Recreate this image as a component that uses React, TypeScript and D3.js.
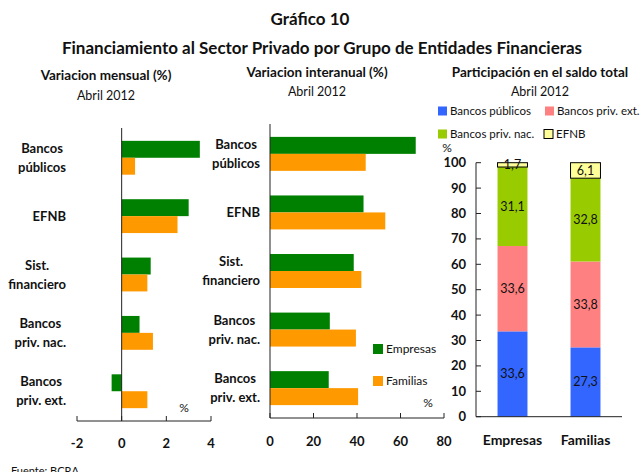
import React from 'react';
import * as d3 from 'd3';

// categorías de entidades (paneles 1 y 2)
const categories = ['Bancos públicos', 'EFNB', 'Sist. financiero', 'Bancos priv. nac.', 'Bancos priv. ext.'];
const categoryLines = [['Bancos', 'públicos'], ['EFNB'], ['Sist.', 'financiero'], ['Bancos', 'priv. nac.'], ['Bancos', 'priv. ext.']];
const series = ['Empresas', 'Familias'];

// variación mensual (%)
const mensualEmpresas = [3.5, 3.0, 1.3, 0.8, -0.45];
const mensualFamilias = [0.6, 2.5, 1.15, 1.4, 1.15];
const mensualTicks = [-2, 0, 2, 4];

// variación interanual (%)
const interanualEmpresas = [67, 43, 38.5, 27.5, 27];
const interanualFamilias = [44, 53, 42, 39.5, 40.5];
const interanualTicks = [0, 20, 40, 60, 80];

// participación en el saldo total (%)
const grupos = ['Bancos públicos', 'Bancos priv. ext.', 'Bancos priv. nac.', 'EFNB'];
const partPublicos = [33.6, 27.3];
const partPrivExt = [33.6, 33.8];
const partPrivNac = [31.1, 32.8];
const partEfnb = [1.7, 6.1];
const partTicks = [0, 10, 20, 30, 40, 50, 60, 70, 80, 90, 100];

const FONT = 'Lato, "Open Sans", sans-serif';
const serieColor = ['#008000', '#FF9900'];
const grupoColor = ['#3366FF', '#FF8080', '#99CC00', '#FFFF99'];

let ctx: CanvasRenderingContext2D | null = null;
const measure = (t: string, font: string) => {
  if (!ctx) ctx = document.createElement('canvas').getContext('2d');
  if (!ctx) return t.length * 6;
  ctx.font = font;
  return ctx.measureText(t).width;
};

// etiqueta multilínea: bloque alineado a la derecha, líneas centradas
const CatLabel = ({ lines, right, cy }: { lines: string[]; right: number; cy: number }) => {
  const font = `bold 13px ${FONT}`;
  const w = Math.max(...lines.map(l => measure(l, font)));
  const cx = right - w / 2;
  const lh = 19;
  const y0 = cy - ((lines.length - 1) * lh) / 2;
  return (
    <g>
      {lines.map((l, i) => (
        <text key={i} x={cx} y={y0 + i * lh} dy="0.35em" textAnchor="middle"
          fontFamily={FONT} fontWeight="bold" fontSize={13} fill="#111">{l}</text>
      ))}
    </g>
  );
};

const HBarPanel = ({ empresas, familias, ticks, domain, xRange, yRange, labelRight, tickY }: {
  empresas: number[]; familias: number[]; ticks: number[]; domain: [number, number];
  xRange: [number, number]; yRange: [number, number]; labelRight: number; tickY: number;
}) => {
  const x = d3.scaleLinear().domain(domain).range(xRange);
  const y = d3.scaleBand<string>().domain(categories).range(yRange).paddingInner(0.42).paddingOuter(0.22);
  const ys = d3.scaleBand<string>().domain(series).range([0, y.bandwidth()]);
  const vals = [empresas, familias];
  const base = yRange[1];
  return (
    <g>
      {categories.map((c, i) => (
        <g key={c} transform={`translate(0,${y(c)})`}>
          {series.map((s, k) => {
            const v = vals[k][i];
            return (
              <rect key={s} x={Math.min(x(0), x(v))} y={ys(s)} width={Math.abs(x(v) - x(0))}
                height={ys.bandwidth()} fill={serieColor[k]} />
            );
          })}
        </g>
      ))}
      {categories.map((c, i) => (
        <CatLabel key={c} lines={categoryLines[i]} right={labelRight} cy={y(c)! + y.bandwidth() / 2} />
      ))}
      <line x1={x(0)} x2={x(0)} y1={yRange[0]} y2={base} stroke="#222" strokeWidth={1} />
      <line x1={xRange[0]} x2={xRange[1]} y1={base} y2={base} stroke="#222" strokeWidth={1} />
      {ticks.map(t => (
        <g key={t}>
          <line x1={x(t)} x2={x(t)} y1={base} y2={base - 5} stroke="#222" strokeWidth={1} />
          <text x={x(t)} y={tickY} textAnchor="middle" fontFamily={FONT} fontWeight="bold"
            fontSize={13} fill="#111">{t}</text>
        </g>
      ))}
    </g>
  );
};

const StackPanel = () => {
  const y = d3.scaleLinear().domain([0, 100]).range([416.7, 162.7]);
  const x = d3.scaleBand<string>().domain(series).range([476, 622]).paddingInner(0.59).paddingOuter(0.295);
  const rows = series.map((s, i) => ({
    sector: s,
    'Bancos públicos': partPublicos[i],
    'Bancos priv. ext.': partPrivExt[i],
    'Bancos priv. nac.': partPrivNac[i],
    EFNB: partEfnb[i],
  }));
  const stack = d3.stack<any>().keys(grupos)(rows);
  return (
    <g>
      {stack.map((layer, gi) => (
        <g key={grupos[gi]}>
          {layer.map((d, si) => {
            const top = y(d[1]);
            const bot = y(d[0]);
            return (
              <g key={si}>
                <rect x={x(series[si])} y={top} width={x.bandwidth()} height={bot - top}
                  fill={grupoColor[gi]} stroke={gi === 3 ? '#000' : 'none'} strokeWidth={1} />
                <text x={x(series[si])! + x.bandwidth() / 2} y={(top + bot) / 2} dy="0.35em"
                  textAnchor="middle" fontFamily={FONT} fontSize={12.5} fill="#111">
                  {(d[1] - d[0]).toFixed(1).replace('.', ',')}
                </text>
              </g>
            );
          })}
        </g>
      ))}
      <line x1={476} x2={476} y1={y(100)} y2={y(0)} stroke="#222" />
      <line x1={476} x2={622} y1={y(0)} y2={y(0)} stroke="#222" />
      {partTicks.map(t => (
        <g key={t}>
          <line x1={476} x2={481} y1={y(t)} y2={y(t)} stroke="#222" />
          <text x={466} y={y(t)} dy="0.35em" textAnchor="end" fontFamily={FONT} fontWeight="bold"
            fontSize={13} fill="#111">{t}</text>
        </g>
      ))}
      {series.map(s => (
        <text key={s} x={x(s)! + x.bandwidth() / 2} y={445} textAnchor="middle" fontFamily={FONT}
          fontWeight="bold" fontSize={14} fill="#111">{s}</text>
      ))}
      <text x={447} y={148} dy="0.35em" textAnchor="middle" fontFamily={FONT} fontSize={12} fill="#111">%</text>
      {/* leyenda */}
      {[
        { g: 0, x: 438, y: 111 }, { g: 1, x: 545, y: 111 },
        { g: 2, x: 438, y: 134 }, { g: 3, x: 544, y: 134 },
      ].map(({ g, x: lx, y: ly }) => (
        <g key={g}>
          <rect x={lx} y={ly - 4.5} width={9} height={9} fill={grupoColor[g]}
            stroke={g === 3 ? '#000' : 'none'} />
          <text x={lx + 12} y={ly} dy="0.35em" fontFamily={FONT} fontSize={11.5} fill="#111">{grupos[g]}</text>
        </g>
      ))}
    </g>
  );
};

export default function App() {
  const title = { fontFamily: FONT, fontWeight: 'bold' as const, fill: '#111' };
  return (
    <svg width={643} height={472} style={{ position: 'absolute', left: 0, top: 0, background: '#fff' }}>
      <text x={310} y={25} textAnchor="middle" fontSize={17} {...title}>Gráfico 10</text>
      <text x={322} y={54} textAnchor="middle" fontSize={17} {...title}>
        Financiamiento al Sector Privado por Grupo de Entidades Financieras
      </text>

      <text x={106} y={80} textAnchor="middle" fontSize={13.5} {...title}>Variacion mensual (%)</text>
      <text x={106} y={100} textAnchor="middle" fontSize={12.5} fontFamily={FONT} fill="#111">Abril 2012</text>
      <text x={317} y={77} textAnchor="middle" fontSize={13.5} {...title}>Variacion interanual (%)</text>
      <text x={317} y={96} textAnchor="middle" fontSize={12.5} fontFamily={FONT} fill="#111">Abril 2012</text>
      <text x={540} y={77} textAnchor="middle" fontSize={13.5} {...title}>Participación en el saldo total</text>
      <text x={540} y={96} textAnchor="middle" fontSize={12.5} fontFamily={FONT} fill="#111">Abril 2012</text>

      <HBarPanel empresas={mensualEmpresas} familias={mensualFamilias} ticks={mensualTicks}
        domain={[-2, 4]} xRange={[77, 211]} yRange={[128, 421]} labelRight={66} tickY={448} />
      <text x={184} y={408} dy="0.35em" textAnchor="middle" fontFamily={FONT} fontSize={12} fill="#111">%</text>

      <HBarPanel empresas={interanualEmpresas} familias={interanualFamilias} ticks={interanualTicks}
        domain={[0, 80]} xRange={[270, 444]} yRange={[124, 418]} labelRight={260} tickY={446} />
      <text x={428} y={403} dy="0.35em" textAnchor="middle" fontFamily={FONT} fontSize={12} fill="#111">%</text>
      {series.map((s, k) => (
        <g key={s}>
          <rect x={373} y={344 + k * 32} width={10} height={10} fill={serieColor[k]} />
          <text x={386} y={349 + k * 32} dy="0.35em" fontFamily={FONT} fontSize={12} fill="#111">{s}</text>
        </g>
      ))}

      <StackPanel />

      <text x={11} y={475} fontFamily={FONT} fontSize={11} fill="#111">Fuente: BCRA</text>
    </svg>
  );
}
